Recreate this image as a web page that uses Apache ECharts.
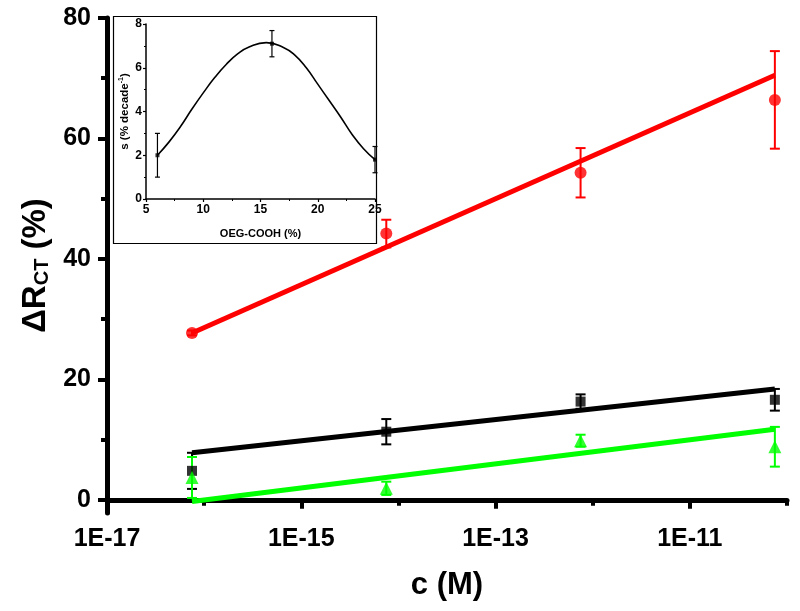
<!DOCTYPE html>
<html>
<head>
<meta charset="utf-8">
<script src="https://cdn.jsdelivr.net/npm/echarts@6/dist/echarts.min.js"></script>
<style>
html,body{margin:0;padding:0;background:#fff;}
#chart{width:800px;height:611px;}
</style>
</head>
<body>
<div id="chart"></div>
<script>
// ---- main chart data ----
const concentrations = [7.5e-17, 7.5e-15, 7.5e-13, 7.5e-11];
const redValues   = [27.7, 44.2, 54.3, 66.4];
const redErrors   = [0.4, 2.3, 4.1, 8.1];
const blackValues = [4.8, 11.3, 16.3, 16.6];
const blackErrors = [3.0, 2.1, 1.2, 1.8];
const greenValues = [3.7, 1.9, 9.8, 8.8];
const greenErrors = [3.4, 1.1, 1.0, 3.3];
const fitX      = [7.5e-17, 7.5e-11];
const redFit    = [27.7, 70.5];
const blackFit  = [7.8, 18.4];
const greenFit  = [-0.3, 11.7];
const xMajorTicks = [1e-17, 1e-15, 1e-13, 1e-11];
const xTickLabels = ['1E-17', '1E-15', '1E-13', '1E-11'];
const xMinorTicks = [1e-16, 1e-14, 1e-12, 1e-10];
const yMajorTicks = [0, 20, 40, 60, 80];
const yMinorTicks = [10, 30, 50, 70];

// ---- inset data ----
const oegX    = [6, 16, 25];
const sValues = [2.0, 7.1, 1.8];
const sErrors = [1.0, 0.6, 0.6];
const curveX  = [6, 7, 8, 9, 10, 11, 12, 13, 14, 15.5, 17, 18, 19, 20, 21, 22, 23, 24, 25];
const curveY  = [2.0, 2.6, 3.3, 4.1, 4.85, 5.55, 6.15, 6.63, 6.95, 7.15, 6.93, 6.58, 6.0, 5.25, 4.5, 3.75, 2.95, 2.3, 1.8];

const FONT = '"Liberation Sans", Arial, sans-serif';
const pairs = (xs, ys) => xs.map((x, i) => [x, ys[i]]);
const triples = (xs, ys, es) => xs.map((x, i) => [x, ys[i], es[i]]);

function errorBar(color, lw, cap) {
  return function (params, api) {
    const x = api.value(0), y = api.value(1), e = api.value(2);
    const top = api.coord([x, y + e]);
    const bot = api.coord([x, y - e]);
    const st = { stroke: color, lineWidth: lw };
    return {
      type: 'group',
      children: [
        { type: 'line', shape: { x1: top[0], y1: top[1], x2: bot[0], y2: bot[1] }, style: st },
        { type: 'line', shape: { x1: top[0] - cap, y1: top[1], x2: top[0] + cap, y2: top[1] }, style: st },
        { type: 'line', shape: { x1: bot[0] - cap, y1: bot[1], x2: bot[0] + cap, y2: bot[1] }, style: st }
      ]
    };
  };
}

const chart = echarts.init(document.getElementById('chart'), null, { renderer: 'canvas' });
const logFmt = v => xTickLabels[xMajorTicks.findIndex(t => Math.abs(Math.log10(t) - Math.log10(v)) < 1e-6)] || '';

chart.setOption({
  backgroundColor: '#ffffff',
  animation: false,
  graphic: [{
    type: 'rect', z: -1,
    shape: { x: 113.5, y: 16.5, width: 263, height: 227 },
    style: { fill: '#fff', stroke: '#000', lineWidth: 1.2 }
  }],
  grid: [
    { left: 107, right: 13, top: 18, bottom: 98 },
    { left: 146, right: 425, top: 24, bottom: 412 }
  ],
  xAxis: [
    {
      gridIndex: 0, type: 'log', logBase: 10, min: 1e-17, max: 1e-10, position: 'bottom',
      axisLine: { lineStyle: { color: '#000', width: 5 } },
      axisTick: { customValues: xMajorTicks, length: 9, lineStyle: { width: 4, color: '#000' } },
      axisLabel: { customValues: xMajorTicks, formatter: logFmt, fontFamily: FONT, fontWeight: 'bold', fontSize: 25, color: '#000', margin: 14 },
      splitLine: { show: false },
      name: 'c (M)', nameLocation: 'middle', nameGap: 57,
      nameTextStyle: { fontFamily: FONT, fontWeight: 'bold', fontSize: 31, color: '#000' }
    },
    {
      gridIndex: 0, type: 'log', logBase: 10, min: 1e-17, max: 1e-10, position: 'bottom',
      axisLine: { show: false },
      axisTick: { customValues: xMinorTicks, length: 6, lineStyle: { width: 4, color: '#000' } },
      axisLabel: { show: false }, splitLine: { show: false }
    },
    {
      gridIndex: 1, type: 'value', min: 5, max: 25, interval: 5, position: 'bottom',
      axisLine: { lineStyle: { color: '#000', width: 1.5 } },
      axisTick: { length: 3, lineStyle: { width: 1.2, color: '#000' } },
      minorTick: { show: true, splitNumber: 2, length: 2, lineStyle: { width: 1, color: '#000' } },
      axisLabel: { fontFamily: FONT, fontWeight: 'bold', fontSize: 12, color: '#000', margin: 5 },
      splitLine: { show: false },
      name: 'OEG-COOH (%)', nameLocation: 'middle', nameGap: 29,
      nameTextStyle: { fontFamily: FONT, fontWeight: 'bold', fontSize: 11, color: '#000' }
    }
  ],
  yAxis: [
    {
      gridIndex: 0, type: 'value', min: -2.2, max: 80, position: 'left',
      axisLine: { lineStyle: { color: '#000', width: 5 } },
      axisTick: { customValues: yMajorTicks, length: 9, lineStyle: { width: 4, color: '#000' } },
      axisLabel: { customValues: yMajorTicks, fontFamily: FONT, fontWeight: 'bold', fontSize: 25, color: '#000', margin: 16 },
      splitLine: { show: false },
      name: '{m|ΔR}{s|CT}{m| (%)}', nameLocation: 'middle', nameGap: 52, nameRotate: 90,
      nameTextStyle: {
        color: '#000',
        rich: {
          m: { fontFamily: FONT, fontWeight: 'bold', fontSize: 33, color: '#000' },
          s: { fontFamily: FONT, fontWeight: 'bold', fontSize: 20, color: '#000', padding: [13, 0, 0, 0] }
        }
      }
    },
    {
      gridIndex: 0, type: 'value', min: -2.2, max: 80, position: 'left',
      axisLine: { show: false },
      axisTick: { customValues: yMinorTicks, length: 6, lineStyle: { width: 4, color: '#000' } },
      axisLabel: { show: false }, splitLine: { show: false }
    },
    {
      gridIndex: 1, type: 'value', min: 0, max: 8, interval: 2, position: 'left',
      axisLine: { lineStyle: { color: '#000', width: 1.5 } },
      axisTick: { length: 3, lineStyle: { width: 1.2, color: '#000' } },
      minorTick: { show: true, splitNumber: 2, length: 2, lineStyle: { width: 1, color: '#000' } },
      axisLabel: { fontFamily: FONT, fontWeight: 'bold', fontSize: 12, color: '#000', margin: 4 },
      splitLine: { show: false },
      name: '{m|s (% decade}{s|-1}{m|)}', nameLocation: 'middle', nameGap: 15, nameRotate: 90,
      nameTextStyle: {
        color: '#000',
        rich: {
          m: { fontFamily: FONT, fontWeight: 'bold', fontSize: 11.5, color: '#000' },
          s: { fontFamily: FONT, fontWeight: 'bold', fontSize: 7, color: '#000', padding: [0, 0, 6, 0] }
        }
      }
    }
  ],
  series: [
    { type: 'line', xAxisIndex: 0, yAxisIndex: 0, data: pairs(fitX, redFit), symbol: 'none', lineStyle: { color: '#ff0000', width: 5 }, z: 2 },
    { type: 'line', xAxisIndex: 0, yAxisIndex: 0, data: pairs(fitX, blackFit), symbol: 'none', lineStyle: { color: '#000000', width: 5 }, z: 2 },
    { type: 'line', xAxisIndex: 0, yAxisIndex: 0, data: pairs(fitX, greenFit), symbol: 'none', lineStyle: { color: '#00ff00', width: 5 }, z: 2 },
    { type: 'custom', xAxisIndex: 0, yAxisIndex: 0, renderItem: errorBar('#ff0000', 2, 5), data: triples(concentrations, redValues, redErrors), encode: { x: 0, y: 1 }, z: 3 },
    { type: 'custom', xAxisIndex: 0, yAxisIndex: 0, renderItem: errorBar('#000000', 2, 5), data: triples(concentrations, blackValues, blackErrors), encode: { x: 0, y: 1 }, z: 3 },
    { type: 'custom', xAxisIndex: 0, yAxisIndex: 0, renderItem: errorBar('#00ff00', 2, 5), data: triples(concentrations, greenValues, greenErrors), encode: { x: 0, y: 1 }, z: 3 },
    { type: 'scatter', xAxisIndex: 0, yAxisIndex: 0, data: pairs(concentrations, redValues), symbol: 'circle', symbolSize: 12, itemStyle: { color: '#ff0000' }, z: 4 },
    { type: 'scatter', xAxisIndex: 0, yAxisIndex: 0, data: pairs(concentrations, blackValues), symbol: 'rect', symbolSize: 10, itemStyle: { color: '#000000' }, z: 4 },
    { type: 'scatter', xAxisIndex: 0, yAxisIndex: 0, data: pairs(concentrations, greenValues), symbol: 'triangle', symbolSize: 13, itemStyle: { color: '#00ff00' }, z: 4 },
    { type: 'line', xAxisIndex: 2, yAxisIndex: 2, data: pairs(curveX, curveY), smooth: 0.5, symbol: 'none', lineStyle: { color: '#000', width: 1.6 }, z: 5 },
    { type: 'custom', xAxisIndex: 2, yAxisIndex: 2, renderItem: errorBar('#000000', 1.2, 2.5), data: triples(oegX, sValues, sErrors), encode: { x: 0, y: 1 }, z: 6 },
    { type: 'scatter', xAxisIndex: 2, yAxisIndex: 2, data: pairs(oegX, sValues), symbol: 'rect', symbolSize: 4, itemStyle: { color: '#000' }, z: 6 }
  ]
});
</script>
</body>
</html>
